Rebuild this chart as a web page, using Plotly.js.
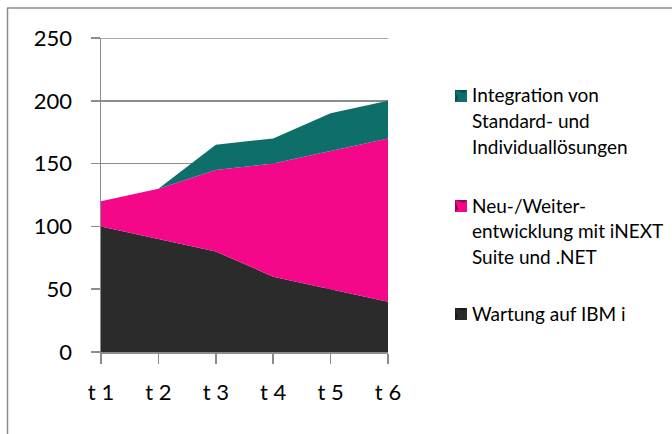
<!DOCTYPE html>
<html>
<head>
<meta charset="utf-8">
<script src="https://cdn.plot.ly/plotly-3.0.1.min.js"></script>
<style>html,body{margin:0;padding:0;background:#fff;}#chart{width:672px;height:434px;}</style>
</head>
<body>
<div id="chart"></div>
<script>
const categories = ["t 1", "t 2", "t 3", "t 4", "t 5", "t 6"];
const wartung = [100, 90, 80, 60, 50, 40];
const neuentwicklung = [20, 40, 65, 90, 110, 130];
const integration = [0, 0, 20, 20, 30, 30];
const seriesNames = ["Wartung auf IBM i", "Neu-/Weiter-\nentwicklung mit iNEXT\nSuite und .NET", "Integration von\nStandard- und\nIndividuallösungen"];
const yTicks = [0, 50, 100, 150, 200, 250];

const colors = ["#2b2b2b", "#f5078a", "#0e6e6a"];
const darkColors = ["#1a1a1a", "#8a0a52", "#124a48"];

const W = 672, H = 434;
const M = {l: 101, r: 284, t: 38, b: 82};
const pw = W - M.l - M.r, ph = H - M.t - M.b;
const px = x => (x - M.l) / pw;
const py = y => (H - M.b - y) / ph;
const FONT = "Lato, 'Open Sans', sans-serif";

const series = [wartung, neuentwicklung, integration];
const traces = series.map((vals, i) => ({
  type: "scatter",
  mode: "lines",
  x: categories,
  y: vals,
  stackgroup: "one",
  line: {width: 0, color: colors[i]},
  fillcolor: colors[i],
  name: seriesNames[i],
  hoverinfo: "x+y+name",
  showlegend: false
}));

// legend built from series names
const annotations = [];
const shapes = [];
const legendTop = [95, 205, 313];
const order = [2, 1, 0];
order.forEach((si, k) => {
  const lines = seriesNames[si].split("\n");
  lines.forEach((ln, j) => {
    annotations.push({
      xref: "paper", yref: "paper",
      x: px(470), y: py(legendTop[k] + j * 25.5),
      xanchor: "left", yanchor: "middle",
      text: ln, showarrow: false,
      font: {family: FONT, size: 19, color: "#000"}
    });
  });
  const cy = legendTop[k] + 1;
  const x0 = 455, x1 = 467, y0 = cy - 6, y1 = cy + 6;
  shapes.push({type: "path", xref: "paper", yref: "paper",
    path: `M ${px(x0)} ${py(y0)} L ${px(x1)} ${py(y0)} L ${px(x1)} ${py(y1)} L ${px(x0)} ${py(y1)} Z`,
    fillcolor: darkColors[si], line: {width: 0}});
  shapes.push({type: "path", xref: "paper", yref: "paper",
    path: `M ${px(x0)} ${py(y0)} L ${px(x1-3)} ${py(y0+3)} L ${px(x0+3)} ${py(y1-3)} Z M ${px(x0)} ${py(y1)} L ${px(x0+3)} ${py(y1-3)} L ${px(x1-3)} ${py(y0+3)} L ${px(x1)} ${py(y0)} L ${px(x1)} ${py(y1)} Z`,
    fillcolor: colors[si], line: {width: 0}});
});

// top gridline (at the range edge)
shapes.push({type: "line", xref: "paper", yref: "y", x0: 0, x1: 1, y0: yTicks[yTicks.length - 1], y1: yTicks[yTicks.length - 1], line: {color: "#8c8c8c", width: 1.5}, layer: "below"});
// outer chart border (top and left visible)
shapes.push({type: "line", xref: "paper", yref: "paper", x0: px(7), x1: px(672), y0: py(8), y1: py(8), line: {color: "#8c8c8c", width: 1.5}});
shapes.push({type: "line", xref: "paper", yref: "paper", x0: px(7.5), x1: px(7.5), y0: py(8), y1: py(434), line: {color: "#8c8c8c", width: 1.5}});

const layout = {
  width: W, height: H,
  margin: M,
  paper_bgcolor: "#fff", plot_bgcolor: "#fff",
  showlegend: false,
  xaxis: {
    type: "category",
    range: [0, categories.length - 1],
    showgrid: false,
    showline: true, linecolor: "#8c8c8c", linewidth: 1.5,
    ticks: "outside", ticklen: 10, tickcolor: "#8c8c8c", tickwidth: 1.5,
    ticklabelstandoff: 10,
    tickfont: {family: FONT, size: 22, color: "#000"},
    fixedrange: true
  },
  yaxis: {
    range: [0, 250],
    tickvals: yTicks,
    ticktext: yTicks.map(String),
    showgrid: true, gridcolor: "#8c8c8c", gridwidth: 1.5,
    showline: true, linecolor: "#8c8c8c", linewidth: 1.5,
    ticks: "outside", ticklen: 9, tickcolor: "#8c8c8c", tickwidth: 1.5,
    ticklabelstandoff: 14,
    zeroline: false,
    tickfont: {family: FONT, size: 22, color: "#000"},
    fixedrange: true
  },
  annotations: annotations,
  shapes: shapes
};

Plotly.newPlot("chart", traces, layout, {displayModeBar: false, staticPlot: true});
</script>
</body>
</html>
